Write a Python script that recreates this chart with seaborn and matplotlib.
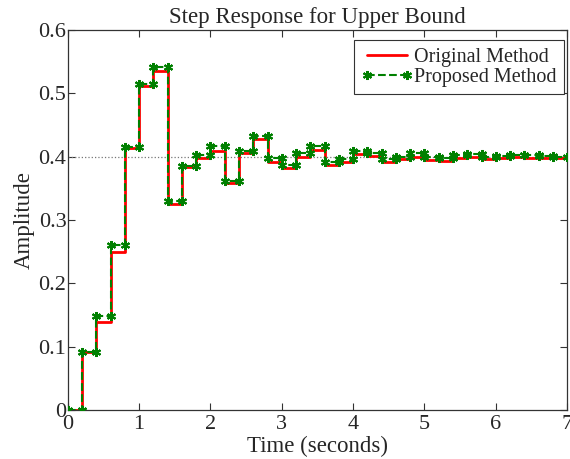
import numpy as np
import pandas as pd
import matplotlib
matplotlib.use("Agg")
import matplotlib.pyplot as plt
import seaborn as sns

# ---- data ----
sample_time = 0.2
original = [0.0, 0.092, 0.139, 0.250, 0.413, 0.512, 0.535, 0.325, 0.383, 0.397,
            0.409, 0.358, 0.405, 0.427, 0.391, 0.382, 0.400, 0.411, 0.386, 0.391,
            0.404, 0.401, 0.392, 0.396, 0.400, 0.395, 0.393, 0.398, 0.400, 0.396,
            0.397, 0.399, 0.398, 0.397, 0.397]
proposed = [0.0, 0.092, 0.148, 0.261, 0.415, 0.515, 0.541, 0.330, 0.385, 0.402,
            0.416, 0.362, 0.408, 0.432, 0.397, 0.387, 0.405, 0.417, 0.392, 0.396,
            0.408, 0.405, 0.396, 0.400, 0.405, 0.399, 0.398, 0.402, 0.404, 0.400,
            0.401, 0.403, 0.402, 0.401, 0.400]
steady_state = 0.4
series_names = ["Original Method", "Proposed Method"]
x_ticks = [0, 1, 2, 3, 4, 5, 6, 7]
y_ticks = [0, 0.1, 0.2, 0.3, 0.4, 0.5, 0.6]
y_tick_labels = ["0", "0.1", "0.2", "0.3", "0.4", "0.5", "0.6"]
title = "Step Response for Upper Bound"
xlabel = "Time (seconds)"
ylabel = "Amplitude"


def stairs_frame(values, name):
    rows = []
    order = 0
    for k, v in enumerate(values):
        t0 = k * sample_time
        t1 = (k + 1) * sample_time
        rows.append((order, t0, v, name)); order += 1
        rows.append((order, t1, v, name)); order += 1
    return pd.DataFrame(rows, columns=["order", "time", "amp", "series"])


df_orig = stairs_frame(original, series_names[0])
df_prop = stairs_frame(proposed, series_names[1])

sns.set_style("ticks")
plt.rcParams["font.family"] = ["Liberation Serif", "DejaVu Serif"]

fig = plt.figure(figsize=(5.70, 4.59), dpi=100)
ax = fig.add_axes([0.119, 0.107, 0.876, 0.828])

ax.axhline(steady_state, color="#777777", linestyle=":", linewidth=0.9, zorder=1)

sns.lineplot(data=df_orig, x="time", y="amp", sort=False, estimator=None,
             color="#ff0000", linewidth=2.0, ax=ax, label=series_names[0], zorder=2)
sns.lineplot(data=df_prop, x="time", y="amp", sort=False, estimator=None,
             color="#008000", linewidth=1.5, linestyle="--",
             marker=(6, 2, 0), markersize=6.5, markeredgewidth=1.5,
             markeredgecolor="#008000", ax=ax, label=series_names[1], zorder=3)

ax.set_xlim(0, 7)
ax.set_ylim(0, 0.6)
ax.set_xticks(x_ticks)
ax.set_xticklabels([str(v) for v in x_ticks])
ax.set_yticks(y_ticks)
ax.set_yticklabels(y_tick_labels)
ax.tick_params(direction="in", length=5, width=0.8, top=True, right=True,
               labelsize=16, color="#333333")
ax.tick_params(axis="x", pad=4)
ax.tick_params(axis="y", pad=1)
for s in ax.spines.values():
    s.set_visible(True)
    s.set_linewidth(0.9)
    s.set_color("#333333")

ax.set_title(title, fontsize=16.5, pad=5)
ax.set_xlabel(xlabel, fontsize=16.5, labelpad=1)
ax.set_ylabel(ylabel, fontsize=16.5, labelpad=3)

leg = ax.legend(loc="upper right", bbox_to_anchor=(0.993, 0.972), fontsize=14.5,
                frameon=True, fancybox=False, edgecolor="#333333", framealpha=1,
                borderpad=0.35, labelspacing=0.05, handlelength=2.6,
                handletextpad=0.05, borderaxespad=0.0, numpoints=2)
leg.get_frame().set_linewidth(0.8)

fig.savefig("out.png", dpi=100)
